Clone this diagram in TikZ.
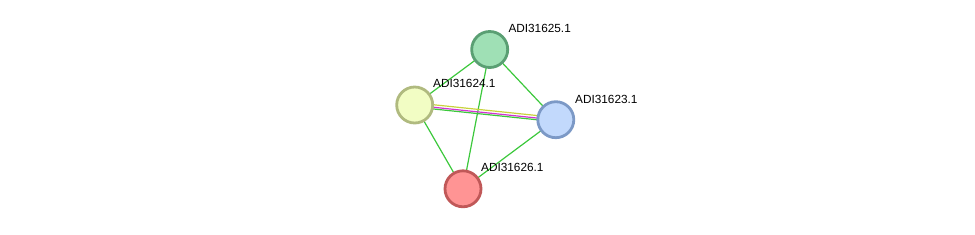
\documentclass[tikz,border=0pt]{standalone}
\usepackage{fontspec}
\setmainfont{Liberation Sans}
\begin{document}
\begin{tikzpicture}[x=1pt,y=-1pt,
  prot/.style={circle,minimum size=36pt,inner sep=0pt,line width=2.8pt},
  lbl/.style={anchor=base west,inner sep=0pt,font=\fontsize{11.8}{12}\selectfont},
  edge/.style={line width=1.2pt,draw={rgb,255:red,60;green,200;blue,60}}]
\useasboundingbox (0,0) rectangle (975,234);
\definecolor{gfill}{RGB}{159,224,181}\definecolor{gdraw}{RGB}{90,159,115}
\definecolor{yfill}{RGB}{242,253,196}\definecolor{ydraw}{RGB}{176,186,127}
\definecolor{bfill}{RGB}{194,217,252}\definecolor{bdraw}{RGB}{124,153,198}
\definecolor{rfill}{RGB}{255,148,148}\definecolor{rdraw}{RGB}{192,88,88}
\coordinate (c25) at (489.7,49.5);
\coordinate (c24) at (414.7,105);
\coordinate (c23) at (555.8,119.7);
\coordinate (c26) at (463,188.8);
\draw[edge] (c25) -- (c24);
\draw[edge] (c25) -- (c23);
\draw[edge] (c25) -- (c26);
\draw[edge] (c24) -- (c26);
\draw[edge] (c23) -- (c26);
\draw[line width=1.2pt,draw={rgb,255:red,200;green,210;blue,60}] ([shift={(0.23,-2.2)}]c24) -- ([shift={(0.23,-2.2)}]c23);
\draw[line width=1.2pt,draw={rgb,255:red,210;green,50;blue,210}] ([shift={(-0.03,0.3)}]c24) -- ([shift={(-0.03,0.3)}]c23);
\draw[edge] ([shift={(-0.21,2.0)}]c24) -- ([shift={(-0.21,2.0)}]c23);
\node[prot,fill=gfill,draw=gdraw] (n25) at (c25) {};
\node[prot,fill=yfill,draw=ydraw] (n24) at (c24) {};
\node[prot,fill=bfill,draw=bdraw] (n23) at (c23) {};
\node[prot,fill=rfill,draw=rdraw] (n26) at (c26) {};
\node[lbl] (l25) at ([shift={(18.6,-17.2)}]c25) {ADI31625.1};
\node[lbl] (l24) at ([shift={(18.3,-18)}]c24) {ADI31624.1};
\node[lbl] (l23) at ([shift={(19.2,-16.7)}]c23) {ADI31623.1};
\node[lbl] (l26) at ([shift={(18,-17.8)}]c26) {ADI31626.1};
\end{tikzpicture}
\end{document}
